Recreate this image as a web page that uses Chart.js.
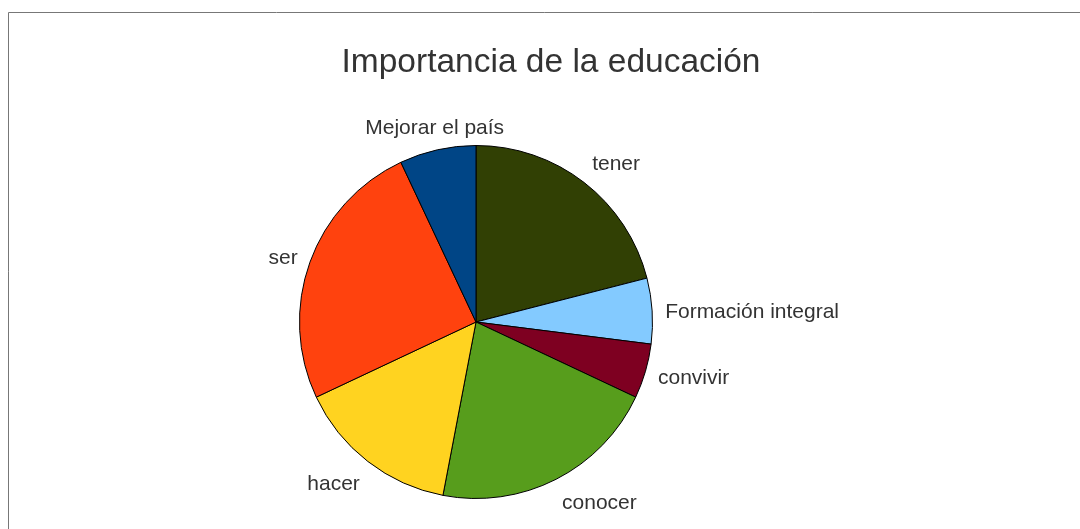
<!DOCTYPE html>
<html>
<head>
<meta charset="utf-8">
<title>Importancia de la educación</title>
<script src="https://cdn.jsdelivr.net/npm/chart.js@4/dist/chart.umd.min.js"></script>
<style>
  html, body { margin: 0; padding: 0; background: #fff; }
  #wrap { width: 1080px; height: 529px; }
</style>
</head>
<body>
<div id="wrap"><canvas id="pie"></canvas></div>
<script>
const categories = ['tener', 'Formación integral', 'convivir', 'conocer', 'hacer', 'ser', 'Mejorar el país'];
const values = [21, 6, 5, 21, 15, 25, 7];
const colors = ['#314004', '#83caff', '#7e0021', '#579d1c', '#ffd320', '#ff420e', '#004586'];
const chartTitle = 'Importancia de la educación';

const FONT = 'Arial, Helvetica, sans-serif';

// gray frame along the top and left edge, plus the title centred on the frame
const frame = {
    id: 'frame',
    beforeDraw(chart) {
        const c = chart.ctx;
        c.save();
        c.strokeStyle = '#777';
        c.lineWidth = 1;
        c.beginPath();
        c.moveTo(8.5, chart.height + 5);
        c.lineTo(8.5, 12.5);
        c.lineTo(chart.width + 5, 12.5);
        c.stroke();
        c.font = '33.5px ' + FONT;
        c.fillStyle = '#333';
        c.textAlign = 'center';
        c.textBaseline = 'alphabetic';
        c.fillText(chartTitle, 551, 72);
        c.restore();
    }
};

// category names outside each slice, placed at the slice's mid angle:
// labels above the pie sit on the anchor, labels below hang from it
const outsideLabels = {
    id: 'outsideLabels',
    afterDatasetsDraw(chart) {
        const c = chart.ctx;
        const meta = chart.getDatasetMeta(0);
        c.save();
        c.font = '21px ' + FONT;
        c.fillStyle = '#333';
        c.textBaseline = 'middle';
        meta.data.forEach((arc, i) => {
            const p = arc.getProps(['x', 'y', 'startAngle', 'endAngle', 'outerRadius'], true);
            const a = (p.startAngle + p.endAngle) / 2;
            const r = p.outerRadius + 13;
            const dx = Math.cos(a), dy = Math.sin(a);
            const ax = p.x + dx * r;
            const ay = p.y + dy * r;
            let shift = 2 + dy * 4;
            if (dy < -0.7) shift = -8.5;
            if (dy > 0.7) shift = 12;
            c.textAlign = Math.abs(dx) < 0.3 ? 'center' : (dx > 0 ? 'left' : 'right');
            c.fillText(categories[i], ax, ay + shift);
        });
        c.restore();
    }
};

new Chart(document.getElementById('pie'), {
    type: 'pie',
    data: {
        labels: categories,
        datasets: [{
            data: values,
            backgroundColor: colors,
            borderColor: '#000',
            borderWidth: 1
        }]
    },
    options: {
        responsive: true,
        maintainAspectRatio: false,
        animation: false,
        layout: {
            padding: { left: 299, right: 427, top: 145, bottom: 30 }
        },
        plugins: {
            legend: { display: false },
            tooltip: { enabled: false },
            title: { display: false }
        }
    },
    plugins: [frame, outsideLabels]
});
</script>
</body>
</html>
